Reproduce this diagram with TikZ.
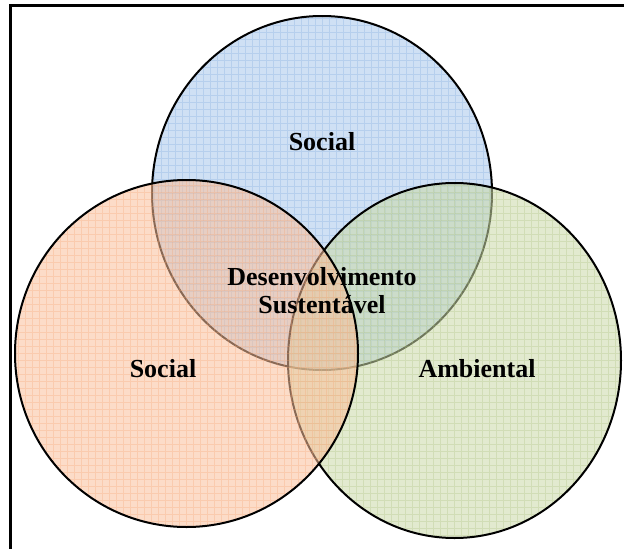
\documentclass[tikz,border=0pt]{standalone}
\usepackage{fontspec}
\setmainfont{Liberation Serif}
\usetikzlibrary{shapes.geometric}
\definecolor{bluebase}{RGB}{168,199,235}
\definecolor{orangebase}{RGB}{251,192,155}
\definecolor{greenbase}{RGB}{203,218,168}
\definecolor{bluegrid}{RGB}{120,165,220}
\definecolor{orangegrid}{RGB}{245,160,110}
\definecolor{greengrid}{RGB}{165,190,120}
\tikzset{
  venn/.style={ellipse, draw=black, line width=2pt, inner sep=0pt, outer sep=0pt,
    fill opacity=0.55, draw opacity=1},
  vgrid/.style={path picture={\draw[#1, line width=0.5pt, draw opacity=0.28]
    (path picture bounding box.south west) grid[step=7pt] (path picture bounding box.north east);}},
  label/.style={font=\fontsize{26}{30}\selectfont\bfseries, text=black, anchor=base, inner sep=0pt},
  frame/.style={line width=3pt, black}
}
\begin{document}
\begin{tikzpicture}[x=1pt,y=-1pt]
\useasboundingbox (0,0) rectangle (624,549);
\fill[white] (0,0) rectangle (624,549);
\coordinate (fbl) at (10,549);
\coordinate (ftl) at (10,5);
\coordinate (ftr) at (624,5);
\draw[frame] (fbl) -- (ftl) -- (ftr);
\node[venn, fill=bluebase, vgrid=bluegrid, minimum width=340pt, minimum height=354pt] (top) at (322,193) {};
\node[venn, fill=greenbase, vgrid=greengrid, minimum width=333pt, minimum height=355pt] (right) at (454.5,360.5) {};
\node[venn, fill=orangebase, vgrid=orangegrid, minimum width=343pt, minimum height=347pt] (left) at (186.5,353.5) {};
\node[label] (tsocial) at (322,150) {Social};
\node[label] (lsocial) at (163,377) {Social};
\node[label] (ambiental) at (477,377) {Ambiental};
\node[label] (desenv) at (322,285) {Desenvolvimento};
\node[label] (sust) at (322,313) {Sustentável};
\end{tikzpicture}
\end{document}
